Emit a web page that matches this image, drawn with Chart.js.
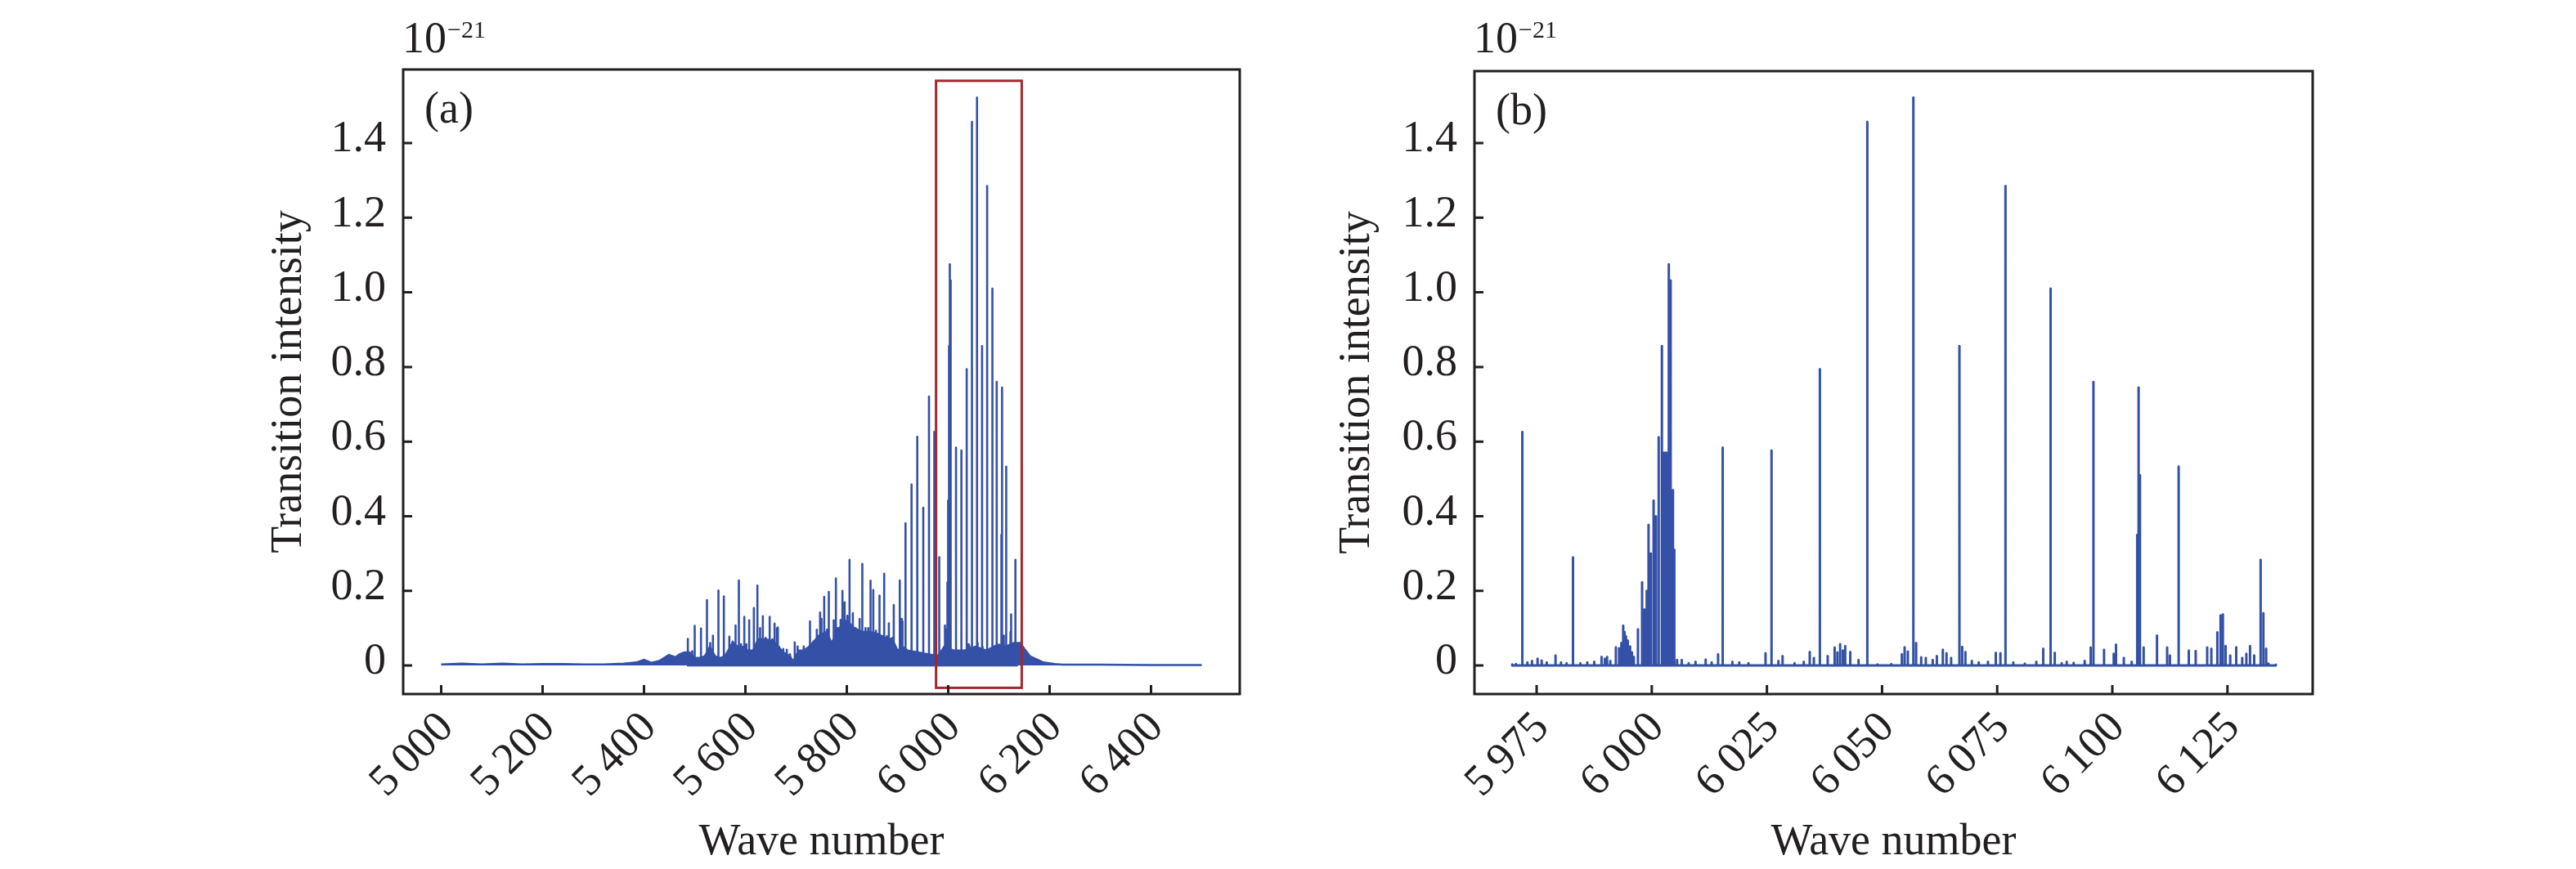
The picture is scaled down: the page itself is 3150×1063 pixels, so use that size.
<!DOCTYPE html>
<html>
<head>
<meta charset="utf-8">
<script src="https://cdn.jsdelivr.net/npm/chart.js@4.4.1/dist/chart.umd.min.js"></script>
<style>
  html, body { margin: 0; padding: 0; background: #fff; }
  #wrap { position: relative; width: 3150px; height: 1063px; }
  canvas { position: absolute; top: 0; }
  #chartA { left: 0; }
  #chartB { left: 1575px; }
</style>
</head>
<body>
<div id="wrap">
  <canvas id="chartA" width="1575" height="1063"></canvas>
  <canvas id="chartB" width="1575" height="1063"></canvas>
</div>
<script>
// resolved transition lines (wave number, intensity in 1e-21)
const lineWave = [
  5486.5, 5500.0, 5512.4, 5524.2, 5536.0, 5546.8, 5557.5, 5568.3, 5580.6, 5587.1,
  5597.8, 5607.5, 5616.7, 5623.7, 5634.4, 5647.9, 5657.5, 5664.0, 5674.7, 5681.7,
  5697.3, 5703.2, 5715.0, 5727.4, 5740.8, 5747.3, 5755.4, 5764.5, 5778.5, 5791.4,
  5805.4, 5830.6, 5846.8, 5852.2, 5864.5, 5873.7, 5882.9, 5892.6, 5904.5, 5909.9,
  5915.8, 5927.7, 5939.0, 5950.8, 5962.1, 5971.9, 5982.9, 5993.8, 5997.9, 5999.3,
  6000.4, 6001.5, 6002.2, 6002.9, 6003.7, 6004.1, 6004.6, 6004.9, 6015.4, 6026.0,
  6036.5, 6046.8, 6056.8, 6066.8, 6076.8, 6086.6, 6095.9, 6105.4, 6105.7, 6106.0,
  6114.4, 6132.2, 6132.8
];
const lineIntensity = [
  0.071, 0.106, 0.099, 0.175, 0.080, 0.201, 0.185, 0.077, 0.107, 0.228,
  0.130, 0.121, 0.154, 0.214, 0.132, 0.130, 0.112, 0.102, 0.044, 0.042,
  0.062, 0.051, 0.051, 0.118, 0.096, 0.142, 0.184, 0.197, 0.233, 0.200,
  0.283, 0.272, 0.227, 0.202, 0.187, 0.246, 0.113, 0.162, 0.228, 0.118,
  0.381, 0.485, 0.613, 0.423, 0.721, 0.626, 0.290, 0.107, 0.223, 0.377,
  0.442, 0.612, 0.856, 0.570, 1.075, 1.032, 0.470, 0.310, 0.584, 0.576,
  0.794, 1.457, 1.522, 0.856, 1.285, 1.010, 0.760, 0.350, 0.745, 0.510,
  0.533, 0.283, 0.140
];

// medium lines of the two bands, only resolved in the full view (a)
const bandLineWave = [
  5495.0, 5530.6, 5562.0, 5575.0, 5591.4, 5601.9, 5629.0, 5640.0, 5653.2, 5662.3,
  5666.6, 5672.0, 5688.0, 5702.6, 5721.0, 5734.0, 5750.0, 5760.8, 5774.2, 5782.3,
  5787.7, 5795.7, 5801.0, 5811.9, 5817.2, 5825.3, 5836.9, 5842.3, 5857.5, 5869.4,
  5879.1, 5889.8, 5898.9, 5908.6
];
const bandLineIntensity = [
  0.038, 0.060, 0.030, 0.064, 0.057, 0.057, 0.100, 0.074, 0.070, 0.100,
  0.050, 0.038, 0.030, 0.050, 0.045, 0.064, 0.125, 0.096, 0.121, 0.100,
  0.122, 0.169, 0.133, 0.140, 0.100, 0.125, 0.100, 0.100, 0.093, 0.078,
  0.078, 0.074, 0.038, 0.125
];

// weak lines seen in the zoomed window (b)
const weakWave = [
  5969.7, 5970.5, 5973.0, 5974.0, 5975.2, 5976.1, 5977.2, 5979.1, 5980.3, 5981.5,
  5984.5, 5986.0, 5987.5, 5989.1, 5989.8, 5990.3, 5991.0, 5992.2, 5992.9, 5993.4,
  5994.1, 5994.4, 5994.8, 5995.3, 5995.7, 5996.1, 5997.0, 5998.4, 5998.9, 5999.8,
  6000.9, 6002.5, 6003.2, 6005.5, 6006.5, 6008.0, 6009.5, 6011.7, 6013.0, 6014.4,
  6017.5, 6019.0, 6021.0, 6024.7, 6027.5, 6028.4, 6031.0, 6033.0, 6034.3, 6035.2,
  6038.2, 6039.7, 6040.3, 6040.9, 6041.5, 6042.0, 6043.1, 6044.9, 6049.0, 6052.0,
  6054.3, 6054.9, 6055.6, 6057.4, 6058.5, 6059.5, 6061.0, 6061.9, 6063.2, 6064.0,
  6065.0, 6067.4, 6068.1, 6069.5, 6071.0, 6073.0, 6074.7, 6075.7, 6078.5, 6081.0,
  6083.5, 6085.0, 6087.5, 6089.0, 6090.1, 6091.6, 6094.0, 6095.3, 6098.2, 6100.3,
  6100.8, 6102.5, 6104.2, 6106.8, 6109.7, 6111.9, 6112.5, 6116.6, 6118.1, 6120.6,
  6121.5, 6122.8, 6123.5, 6124.0, 6124.6, 6125.6, 6126.9, 6128.2, 6129.1, 6129.9,
  6130.8, 6133.4, 6133.9, 6135.5
];
const weakIntensity = [
  0.003, 0.004, 0.008, 0.012, 0.018, 0.013, 0.008, 0.027, 0.008, 0.006,
  0.006, 0.008, 0.010, 0.023, 0.018, 0.023, 0.012, 0.049, 0.046, 0.060,
  0.090, 0.078, 0.067, 0.051, 0.035, 0.023, 0.097, 0.150, 0.200, 0.300,
  0.400, 0.570, 0.570, 0.015, 0.015, 0.006, 0.010, 0.016, 0.008, 0.030,
  0.010, 0.008, 0.006, 0.033, 0.012, 0.025, 0.006, 0.010, 0.036, 0.020,
  0.025, 0.048, 0.035, 0.057, 0.040, 0.052, 0.036, 0.015, 0.003, 0.004,
  0.030, 0.049, 0.037, 0.060, 0.022, 0.020, 0.015, 0.025, 0.042, 0.033,
  0.020, 0.050, 0.036, 0.012, 0.008, 0.010, 0.034, 0.033, 0.008, 0.005,
  0.010, 0.045, 0.034, 0.006, 0.010, 0.007, 0.012, 0.048, 0.042, 0.031,
  0.056, 0.020, 0.010, 0.048, 0.080, 0.048, 0.027, 0.040, 0.039, 0.048,
  0.045, 0.089, 0.134, 0.137, 0.052, 0.027, 0.049, 0.020, 0.031, 0.052,
  0.027, 0.045, 0.005, 0.002
];

// floor of the unresolved weak-line forest in the full spectrum (a)
const bandWave = [
  5000, 5040, 5080, 5120, 5160, 5200, 5240, 5280, 5320, 5360,
  5385, 5400, 5415, 5430, 5449, 5462, 5470, 5480, 5490, 5500,
  5510, 5520, 5530, 5540, 5550, 5560, 5575, 5585, 5595, 5605,
  5615, 5625, 5640, 5655, 5665, 5675, 5688, 5694, 5705, 5715,
  5725, 5735, 5745, 5760, 5770, 5785, 5800, 5815, 5830, 5845,
  5860, 5875, 5890, 5900, 5910, 5920, 5940, 5960, 5980, 5992,
  6011, 6032, 6054, 6075, 6097, 6113, 6129, 6142, 6150, 6161,
  6172, 6188, 6210, 6226, 6300, 6400, 6500
];
const bandLevel = [
  0.003, 0.005, 0.003, 0.005, 0.003, 0.004, 0.004, 0.003, 0.003, 0.005,
  0.008, 0.015, 0.007, 0.012, 0.028, 0.022, 0.030, 0.035, 0.035, 0.020,
  0.020, 0.025, 0.050, 0.025, 0.020, 0.025, 0.062, 0.050, 0.050, 0.040,
  0.040, 0.070, 0.070, 0.065, 0.050, 0.035, 0.025, 0.010, 0.040, 0.040,
  0.050, 0.064, 0.080, 0.090, 0.060, 0.100, 0.120, 0.100, 0.090, 0.090,
  0.085, 0.075, 0.070, 0.040, 0.050, 0.040, 0.035, 0.030, 0.025, 0.050,
  0.040, 0.040, 0.050, 0.040, 0.055, 0.050, 0.060, 0.060, 0.045, 0.025,
  0.018, 0.008, 0.004, 0.002, 0.002, 0.001, 0.001
];

const xTicksA = [5000, 5200, 5400, 5600, 5800, 6000, 6200, 6400];
const xLabelsA = ["5\u2009000", "5\u2009200", "5\u2009400", "5\u2009600", "5\u2009800", "6\u2009000", "6\u2009200", "6\u2009400"];
const xTicksB = [5975, 6000, 6025, 6050, 6075, 6100, 6125];
const xLabelsB = ["5\u2009975", "6\u2009000", "6\u2009025", "6\u2009050", "6\u2009075", "6\u2009100", "6\u2009125"];
const yTicks = [0, 0.2, 0.4, 0.6, 0.8, 1.0, 1.2, 1.4];
const yLabels = ["0", "0.2", "0.4", "0.6", "0.8", "1.0", "1.2", "1.4"];

// window of (a) shown in (b): x from, x to, y from, y to
const zoomWindow = [5976, 6145, -0.06, 1.567];

const blue = "#3451a7";
const ink = "#231f20";
const serif = "Liberation Serif";

// every line drawn as a vertical stick from the baseline
function sticks(waves, heights, lo, hi) {
  const all = waves.map((w, i) => [w, heights[i]]).filter(p => p[0] >= lo && p[0] <= hi);
  all.sort((p, q) => p[0] - q[0]);
  const pts = [];
  all.forEach(([w, h]) => {
    pts.push({ x: w, y: 0 }, { x: w, y: h }, { x: w, y: 0 });
  });
  return pts;
}

const allWave = lineWave.concat(weakWave);
const allIntensity = lineIntensity.concat(weakIntensity);

// frame, inward ticks, 45° tick labels, panel tag, 10^-21 and the red window
const decor = {
  id: "decor",
  afterDatasetsDraw(chart, args, opts) {
    const { ctx, chartArea: a, scales: { x, y } } = chart;
    ctx.save();
    if (opts.box) {
      const [x0, x1, y0, y1] = opts.box;
      ctx.strokeStyle = "#a3282e";
      ctx.lineWidth = 3;
      const px0 = x.getPixelForValue(x0), px1 = x.getPixelForValue(x1);
      const py0 = y.getPixelForValue(y0), py1 = y.getPixelForValue(y1);
      ctx.strokeRect(px0, py1, px1 - px0, py0 - py1);
    }
    ctx.strokeStyle = ink;
    ctx.lineWidth = 3;
    ctx.strokeRect(a.left, a.top, a.right - a.left, a.bottom - a.top);
    ctx.beginPath();
    y.ticks.forEach(t => {
      const p = y.getPixelForValue(t.value);
      ctx.moveTo(a.left, p);
      ctx.lineTo(a.left + 11, p);
    });
    x.ticks.forEach(t => {
      const p = x.getPixelForValue(t.value);
      ctx.moveTo(p, a.bottom);
      ctx.lineTo(p, a.bottom - 11);
    });
    ctx.stroke();

    ctx.fillStyle = ink;
    ctx.font = `54px "${serif}"`;
    // x tick labels, right end hung just below the tick
    ctx.textAlign = "right";
    ctx.textBaseline = "middle";
    x.ticks.forEach((t, i) => {
      ctx.save();
      ctx.translate(x.getPixelForValue(t.value) + 7, a.bottom + 33);
      ctx.rotate(-Math.PI / 4);
      ctx.fillText(opts.xLabels[i], 0, 0);
      ctx.restore();
    });

    ctx.textBaseline = "alphabetic";
    ctx.textAlign = "left";
    ctx.fillText(opts.tag, a.left + 26, a.top + 65);
    ctx.fillText("10", a.left - 1, 64);
    const w = ctx.measureText("10").width;
    ctx.font = `30px "${serif}"`;
    ctx.fillText("\u221221", a.left - 1 + w + 1, 46);
    ctx.restore();
  }
};

function makeChart(id, cfg) {
  return new Chart(document.getElementById(id), {
    type: "line",
    data: { datasets: cfg.datasets },
    options: {
      responsive: false,
      animation: false,
      devicePixelRatio: 1,
      layout: { padding: { left: 0, right: cfg.padRight, top: cfg.top, bottom: 0 } },
      plugins: {
        legend: { display: false },
        tooltip: { enabled: false },
        decor: { tag: cfg.tag, box: cfg.box, xLabels: cfg.xLabels }
      },
      elements: { point: { radius: 0 } },
      scales: {
        x: {
          type: "linear",
          min: cfg.xMin,
          max: cfg.xMax,
          afterBuildTicks: s => { s.ticks = cfg.xTicks.map(v => ({ value: v })); },
          afterFit: s => { s.height = 1063 - cfg.bottom; },
          grid: { display: false, drawTicks: false },
          border: { display: false },
          ticks: { display: false },
          title: {
            display: true,
            text: "Wave number",
            color: ink,
            font: { family: serif, size: 54 },
            padding: { top: 0, bottom: 0 }
          }
        },
        y: {
          min: -35 / 456.4,
          max: (cfg.bottom - 35 - cfg.top) / 456.4,
          afterBuildTicks: s => { s.ticks = yTicks.map(v => ({ value: v })); },
          afterFit: s => { s.width = cfg.left; },
          grid: { display: false, drawTicks: false },
          border: { display: false },
          ticks: {
            padding: 21,
            labelOffset: -4,
            color: ink,
            font: { family: serif, size: 54 },
            callback: (v, i) => yLabels[i]
          },
          title: {
            display: true,
            text: "Transition intensity",
            color: ink,
            font: { family: serif, size: 54 },
            padding: { top: cfg.titleGap, bottom: 0 }
          }
        }
      }
    },
    plugins: [decor]
  });
}

makeChart("chartA", {
  tag: "(a)",
  box: zoomWindow,
  left: 493, padRight: 1575 - 1516, top: 85, bottom: 849, titleGap: 321,
  xMin: 4925, xMax: 6575, xTicks: xTicksA, xLabels: xLabelsA,
  datasets: [
    {
      data: bandWave.map((w, i) => ({ x: w, y: bandLevel[i] })),
      borderColor: blue, backgroundColor: blue, borderWidth: 2.5,
      fill: "origin", tension: 0
    },
    {
      data: sticks(allWave.concat(bandLineWave), allIntensity.concat(bandLineIntensity), 4925, 6575),
      borderColor: blue, borderWidth: 2.6, fill: false, tension: 0,
      borderJoinStyle: "round", borderCapStyle: "round"
    }
  ]
});

makeChart("chartB", {
  tag: "(b)",
  box: null,
  left: 1803 - 1575, padRight: 1575 - (2828 - 1575), top: 87, bottom: 849, titleGap: 52,
  xMin: 5961.5, xMax: 6143.5, xTicks: xTicksB, xLabels: xLabelsB,
  datasets: [
    {
      data: sticks(allWave, allIntensity, 5969.7, 6135.5),
      borderColor: blue, borderWidth: 3, fill: false, tension: 0,
      borderJoinStyle: "round", borderCapStyle: "round"
    }
  ]
});
</script>
</body>
</html>
